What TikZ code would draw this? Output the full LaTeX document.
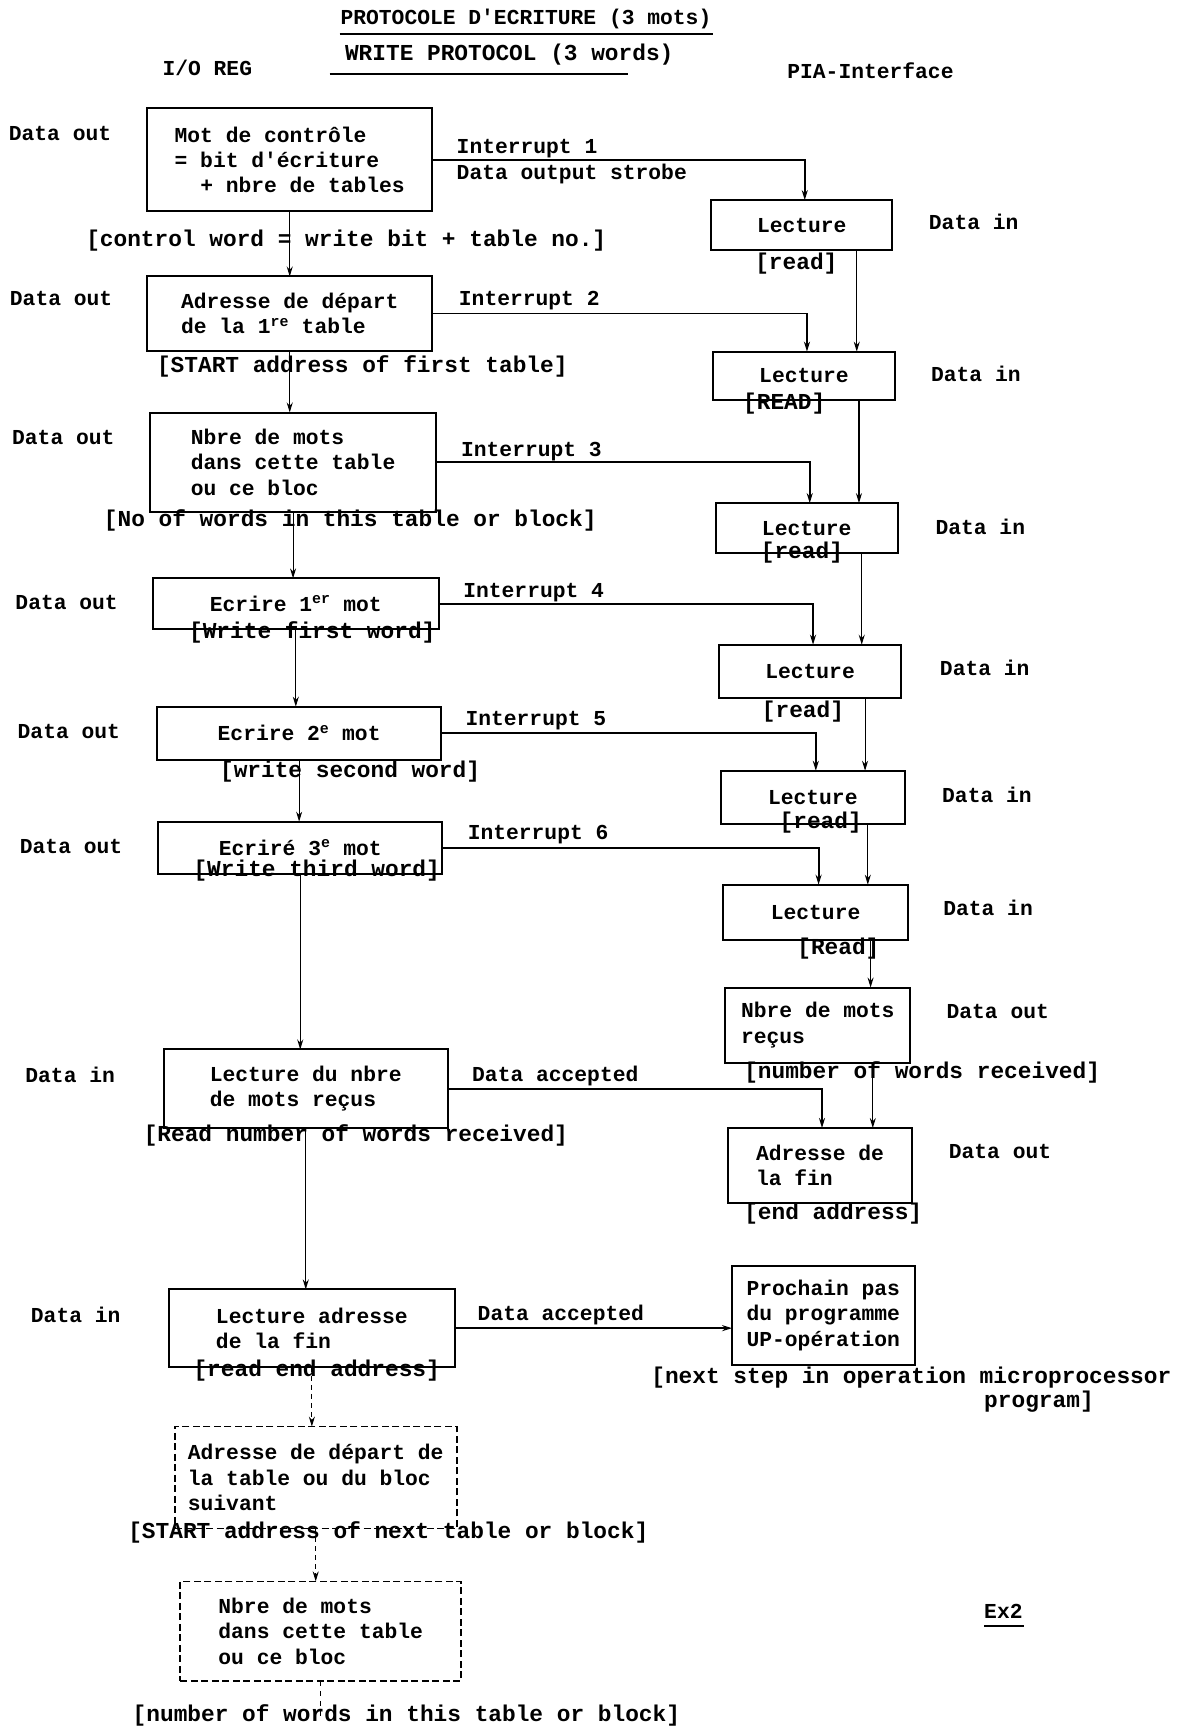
\documentclass[tikz,border=0pt]{standalone}
\usepackage{fontspec}
\newfontfamily\tw{Liberation Mono}
\usetikzlibrary{arrows.meta,calc}

\begin{document}
\begin{tikzpicture}[x=1.1057pt,y=-1.1057pt,
  every node/.style={inner sep=0pt,outer sep=0pt},
  mainfont/.style={font=\tw\bfseries\fontsize{21.3}{25.4}\selectfont},
  txt/.style={mainfont,anchor=west,text height=15pt,text depth=4pt},
  tr/.style={font=\tw\bfseries\fontsize{22.8}{26}\selectfont,anchor=west,text height=16pt,text depth=5pt},
  box/.style={mainfont,draw,line width=2pt,align=left},
  dbox/.style={box,line width=1.6pt,dash pattern=on 7pt off 3.5pt},
  tip/.style={-{Stealth[length=10pt,width=6pt]}},
  flow/.style={tip,line width=1.1pt},
  signal/.style={tip,line width=1.9pt},
  dflow/.style={tip,line width=1.1pt,dash pattern=on 5pt off 4pt},
  uline/.style={line width=1.8pt},
]
\useasboundingbox (0,0) rectangle (1079,1568);

% ---------- headings ----------
\node[txt] (t1) at (308,17) {PROTOCOLE D'ECRITURE (3 mots)};
\draw[uline] (307,31) -- (645,31);
\node[tr] (t2) at (312,50) {WRITE PROTOCOL (3 words)};
\draw[uline] (298,67) -- (568,67);
\node[txt] (hio) at (147,63) {I/O REG};
\node[txt] (hpia) at (712,66) {PIA-Interface};

% ---------- I/O register side ----------
\node[box,minimum width=285.3pt,minimum height=102.8pt] (B1) at (262,144.5)
  {Mot de contrôle\\= bit d'écriture\\\phantom{XX}+ nbre de tables};
\node[box,minimum width=285.3pt,minimum height=74.1pt] (B2) at (262,283.5)
  {Adresse de départ\\de la 1\textsuperscript{re} table};
\node[box,minimum width=285.3pt,minimum height=99.5pt] (B3) at (265,418)
  {Nbre de mots\\dans cette table\\ou ce bloc};
\node[box,minimum width=286.4pt,minimum height=50.9pt] (B4) at (267.5,546)
  {Ecrire 1\textsuperscript{er} mot};
\node[box,minimum width=284.2pt,minimum height=53.1pt] (B5) at (270.5,663)
  {Ecrire 2\textsuperscript{e} mot};
\node[box,minimum width=284.2pt,minimum height=52pt] (B6) at (271.5,766.5)
  {Ecriré 3\textsuperscript{e} mot};
\node[box,minimum width=284.2pt,minimum height=78.5pt] (B7) at (276.5,984.5)
  {Lecture du nbre\\de mots reçus};
\node[box,minimum width=285.3pt,minimum height=77.4pt] (B8) at (282,1201)
  {Lecture adresse\\de la fin};
\node[dbox,minimum width=282pt,minimum height=101.7pt] (B9) at (285.5,1336)
  {Adresse de départ de\\la table ou du bloc\\suivant};
\node[dbox,minimum width=280.8pt,minimum height=99.5pt] (B10) at (290,1475)
  {Nbre de mots\\dans cette table\\ou ce bloc};

% ---------- PIA interface side ----------
\node[box,minimum width=181.3pt,minimum height=49.8pt] (R1) at (725,203.5) {Lecture};
\node[box,minimum width=181.3pt,minimum height=48.7pt] (R2) at (727,340) {Lecture};
\node[box,minimum width=182.4pt,minimum height=49.8pt] (R3) at (729.5,477.5) {Lecture};
\node[box,minimum width=182.4pt,minimum height=53.1pt] (R4) at (732.5,607) {Lecture};
\node[box,minimum width=183.5pt,minimum height=53.1pt] (R5) at (735,721) {Lecture};
\node[box,minimum width=184.7pt,minimum height=55.3pt] (R6) at (737.5,825) {Lecture};
\node[box,minimum width=184.7pt,minimum height=75.2pt] (R7) at (739.5,927) {Nbre de mots\\reçus};
\node[box,minimum width=184.7pt,minimum height=75.2pt] (R8) at (741.5,1054) {Adresse de\\la fin};
\node[box,minimum width=182.4pt,minimum height=98.4pt] (R9) at (744.5,1189.5)
  {Prochain pas\\du programme\\UP-opération};

% ---------- side labels ----------
\node[txt] (l1) at (8,122) {Data out};
\node[txt] (l2) at (9,271) {Data out};
\node[txt] (l3) at (11,397) {Data out};
\node[txt] (l4) at (14,546) {Data out};
\node[txt] (l5) at (16,663) {Data out};
\node[txt] (l6) at (18,767) {Data out};
\node[txt] (l7) at (23,974) {Data in};
\node[txt] (l8) at (28,1191) {Data in};
\node[txt] (r1) at (840,203) {Data in};
\node[txt] (r2) at (842,340) {Data in};
\node[txt] (r3) at (846,478) {Data in};
\node[txt] (r4) at (850,606) {Data in};
\node[txt] (r5) at (852,721) {Data in};
\node[txt] (r6) at (853,823) {Data in};
\node[txt] (r7) at (856,916) {Data out};
\node[txt] (r8) at (858,1043) {Data out};

% ---------- signal labels ----------
\node[txt] (i1) at (413,134) {Interrupt 1};
\node[txt] (i1b) at (413,157) {Data output strobe};
\node[txt] (i2) at (415,271) {Interrupt 2};
\node[txt] (i3) at (417,408) {Interrupt 3};
\node[txt] (i4) at (419,535) {Interrupt 4};
\node[txt] (i5) at (421,651) {Interrupt 5};
\node[txt] (i6) at (423,754) {Interrupt 6};
\node[txt] (a1) at (427,973) {Data accepted};
\node[txt] (a2) at (432,1189) {Data accepted};

% ---------- English translations ----------
\node[tr] (e1) at (78,218) {[control word = write bit + table no.]};
\node[tr] (e2) at (683,239) {[read]};
\node[tr] (e3) at (142,332) {[START address of first table]};
\node[tr] (e4) at (672,365) {[READ]};
\node[tr] (e5) at (94,471) {[No of words in this table or block]};
\node[tr] (e6) at (688,500) {[read]};
\node[tr] (e7) at (171,572) {[Write first word]};
\node[tr] (e8) at (689,644) {[read]};
\node[tr] (e9) at (199,698) {[write second word]};
\node[tr] (e10) at (705,744) {[read]};
\node[tr] (e11) at (175,788) {[Write third word]};
\node[tr] (e12) at (721,858) {[Read]};
\node[tr] (e13) at (673,970) {[number of words received]};
\node[tr] (e14) at (130,1027) {[Read number of words received]};
\node[tr] (e15) at (673,1098) {[end address]};
\node[tr] (e16) at (175,1240) {[read end address]};
\node[tr] (e17) at (589,1246) {[next step in operation microprocessor};
\node[tr] (e18) at (890,1268) {program]};
\node[tr] (e19) at (116,1386) {[START address of next table or block]};
\node[tr] (e20) at (120,1552) {[number of words in this table or block]};

\node[txt] (ex) at (890,1459) {Ex2};
\draw[uline] (890,1470) -- (926,1470);

% ---------- sequence on the I/O register side ----------
\draw[flow] (B1.south) -- (B1.south |- B2.north);
\draw[flow] (B2.south) -- (B2.south |- B3.north);
\draw[flow] (B3.south) -- (B3.south |- B4.north);
\draw[flow] (B4.south) -- (B4.south |- B5.north);
\draw[flow] (B5.south) -- (B5.south |- B6.north);
\draw[flow] (B6.south) -- (B6.south |- B7.north);
\draw[flow] (B7.south) -- (B7.south |- B8.north);
\draw[dflow] (B8.south) -- (B8.south |- B9.north);
\draw[dflow] (B9.south) -- (B9.south |- B10.north);
\coordinate (tail) at ($(B10.south)+(0,34)$);
\draw[line width=1.1pt,dash pattern=on 5pt off 5pt] (B10.south) -- (tail);

% ---------- sequence on the PIA side ----------
\draw[flow] ([xshift=55pt]R1.south) -- ([xshift=55pt]R1.south |- R2.north);
\draw[flow] ([xshift=55pt]R2.south) -- ([xshift=55pt]R2.south |- R3.north);
\draw[flow] ([xshift=55pt]R3.south) -- ([xshift=55pt]R3.south |- R4.north);
\draw[flow] ([xshift=55pt]R4.south) -- ([xshift=55pt]R4.south |- R5.north);
\draw[flow] ([xshift=55pt]R5.south) -- ([xshift=55pt]R5.south |- R6.north);
\draw[flow] ([xshift=55pt]R6.south) -- ([xshift=55pt]R6.south |- R7.north);
\draw[flow] ([xshift=55pt]R7.south) -- ([xshift=55pt]R7.south |- R8.north);

% ---------- handshake signals ----------
\draw[signal] (B1.east) -| ([xshift=3pt]R1.north);
\draw[signal] (B2.east) -| ([xshift=3pt]R2.north);
\draw[signal] (B3.east) -| ([xshift=3pt]R3.north);
\draw[signal] (B4.east) -| ([xshift=3pt]R4.north);
\draw[signal] (B5.east) -| ([xshift=3pt]R5.north);
\draw[signal] (B6.east) -| ([xshift=3pt]R6.north);
\draw[signal] (B7.east) -| ([xshift=2pt]R8.north);
\draw[signal] (B8.east) -- (B8.east -| R9.west);
\end{tikzpicture}
\end{document}
